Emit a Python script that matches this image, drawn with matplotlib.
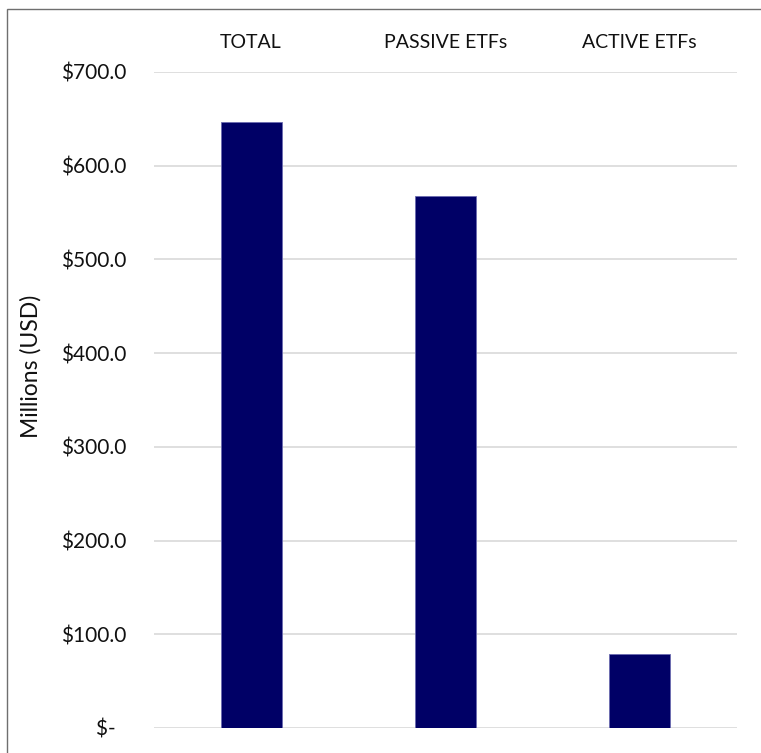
import matplotlib.pyplot as plt
from matplotlib.patches import Rectangle
from matplotlib.ticker import FuncFormatter

categories = ['TOTAL', 'PASSIVE ETFs', 'ACTIVE ETFs']
values = [647.0, 568.0, 79.0]
y_ticks = [0, 100, 200, 300, 400, 500, 600, 700]

plt.rcParams['font.family'] = ['Lato', 'DejaVu Sans']

W, H = 761, 753
fig = plt.figure(figsize=(W / 100, H / 100), dpi=100)
ax = fig.add_axes([154 / W, (H - 728) / H, (736.5 - 154) / W, (728 - 72) / H])

ax.bar(range(len(categories)), values, width=0.315, color='#000066',
       edgecolor='#6b6bb0', linewidth=0.6, zorder=3)

ax.set_xlim(-0.5, 2.5)
ax.set_ylim(0, 700)
ax.set_yticks(y_ticks)


def money(v, pos):
    if v == 0:
        return '$-  '
    return '${:.1f}'.format(v)


ax.yaxis.set_major_formatter(FuncFormatter(money))
ax.grid(axis='y', color='#d9d9d9', linewidth=1.2, zorder=0)
ax.set_axisbelow(True)

ax.xaxis.tick_top()
ax.set_xticks(range(len(categories)))
ax.set_xticklabels(categories)
ax.tick_params(axis='x', length=0, pad=15, labelsize=14)
ax.tick_params(axis='y', length=0, pad=20, labelsize=15, labelcolor='#111111')
ax.tick_params(axis='x', labelcolor='#111111')
for s in ax.spines.values():
    s.set_visible(False)

fig.text(31 / W, 1 - 366 / H, 'Millions (USD)', rotation=90, ha='center', va='center',
         fontsize=16.5, color='#111111')

# chart border
fig.add_artist(Rectangle((7 / W, -0.1), 1.2, 1.1 - 9 / H, transform=fig.transFigure,
                         fill=False, edgecolor='#6f6f6f', linewidth=1.0, clip_on=False))

fig.savefig('out.png', dpi=100)
